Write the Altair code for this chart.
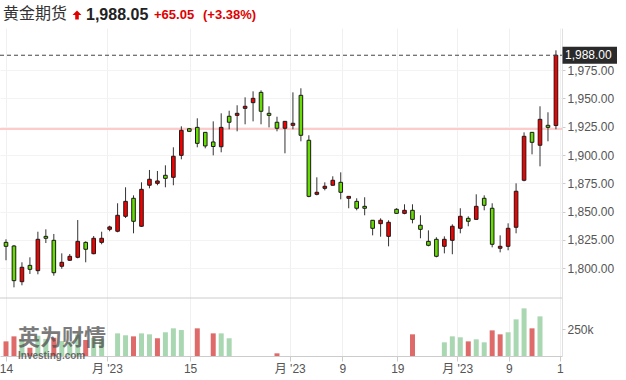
import json
import altair as alt
import numpy as np
import pandas as pd

# ---------------- data ----------------
opens = [1822.9, 1819.7, 1788.2, 1802.6, 1797.9, 1828.2, 1824.7, 1801.8, 1807.1, 1809.7,
         1822.9, 1812.9, 1822.9, 1834.4, 1832.7, 1845.9, 1861.8, 1837.1, 1873.3, 1875.0,
         1882.1, 1880.3, 1899.7, 1923.2, 1924.4, 1920.0, 1911.5, 1907.3, 1934.2, 1935.0,
         1941.2, 1946.2, 1955.3, 1936.8, 1928.9, 1923.6, 1926.2, 1952.7, 1913.0, 1865.3,
         1870.6, 1873.3, 1875.9, 1861.8, 1859.1, 1854.7, 1842.4, 1839.4, 1828.2, 1852.1,
         1848.5, 1851.2, 1838.0, 1823.8, 1825.6, 1819.4, 1824.7, 1835.3, 1844.1, 1843.2,
         1861.8, 1853.0, 1817.7, 1819.4, 1836.2, 1877.7, 1920.0, 1908.6, 1926.2, 1926.0]
highs = [1825.6, 1820.6, 1805.3, 1809.7, 1832.3, 1834.4, 1830.3, 1813.2, 1812.6, 1842.6,
         1823.8, 1828.5, 1832.3, 1837.6, 1857.4, 1871.5, 1864.4, 1875.9, 1886.8, 1885.9,
         1890.9, 1906.8, 1925.3, 1923.8, 1932.4, 1920.3, 1929.7, 1936.8, 1939.1, 1943.9,
         1950.9, 1956.2, 1957.1, 1943.0, 1933.8, 1929.9, 1955.3, 1958.9, 1917.4, 1880.3,
         1875.9, 1881.2, 1884.7, 1863.7, 1861.8, 1862.7, 1842.6, 1844.1, 1842.4, 1853.0,
         1856.5, 1856.5, 1846.8, 1833.5, 1827.4, 1828.2, 1838.8, 1853.0, 1845.9, 1865.3,
         1864.4, 1857.4, 1829.1, 1839.7, 1875.0, 1920.0, 1920.3, 1943.0, 1937.7, 1992.4]
lows = [1807.1, 1783.2, 1785.0, 1795.0, 1794.7, 1822.3, 1793.5, 1799.6, 1806.5, 1808.8,
        1805.3, 1812.4, 1821.2, 1832.7, 1831.8, 1844.4, 1830.9, 1836.5, 1870.6, 1873.3,
        1871.5, 1873.3, 1896.2, 1920.7, 1906.8, 1905.9, 1899.7, 1902.4, 1922.7, 1920.9,
        1927.1, 1929.7, 1927.1, 1924.4, 1920.9, 1901.5, 1922.7, 1912.1, 1862.7, 1864.4,
        1868.8, 1873.0, 1860.9, 1853.0, 1851.2, 1846.8, 1829.1, 1827.9, 1819.4, 1848.4,
        1847.7, 1839.7, 1826.5, 1819.4, 1809.7, 1813.2, 1812.4, 1830.9, 1837.1, 1843.0,
        1851.2, 1818.5, 1814.1, 1815.9, 1830.9, 1876.8, 1900.6, 1890.0, 1912.1, 1922.7]
closes = [1819.4, 1789.1, 1800.9, 1799.1, 1825.6, 1826.5, 1796.1, 1805.3, 1810.6, 1823.8,
          1816.8, 1826.5, 1826.5, 1836.5, 1846.8, 1859.1, 1841.5, 1869.7, 1878.6, 1877.1,
          1879.4, 1898.9, 1921.8, 1920.9, 1910.3, 1908.0, 1907.5, 1924.4, 1928.9, 1936.8,
          1943.0, 1950.0, 1938.6, 1935.0, 1923.6, 1929.7, 1928.0, 1917.4, 1863.5, 1867.1,
          1872.4, 1877.7, 1867.1, 1863.5, 1853.0, 1853.0, 1835.3, 1842.4, 1840.6, 1848.5,
          1851.2, 1843.2, 1834.4, 1820.3, 1810.6, 1825.6, 1837.1, 1845.9, 1841.5, 1854.7,
          1855.6, 1821.2, 1819.4, 1835.3, 1868.0, 1916.5, 1911.2, 1931.5, 1924.4, 1988.05]
# volume in thousands; None = no bar
volumes_k = [137, 184, 150, 78, 190, 160, 171, 140, 130, 200,
             150, 170, 160, None, 212, 194, 184, 212, 203, 166,
             222, 259, 243, None, 259, None, 212, 212, 166, None,
             None, None, None, None, 25, None, None, None, None, None,
             None, None, None, None, None, None, None, None, None, None,
             None, 203, None, None, None, 128, 184, 175, 137, 156,
             128, 240, 203, 222, 343, 446, 259, 371, None, None]

tick_pos = [0, 12.67, 23.1, 35.6, 42.2, 49.1, 56.6, 63.1, 69.5]
tick_labels = ["14", "月 '23", "15", "月 '23", "9", "19", "月 '23", "9", "1"]
price_ticks = [1800, 1825, 1850, 1875, 1900, 1925, 1950, 1975]
prev_close = 1923.0
last_price = 1988.05
last_label = "1,988.00"

# ---------------- styling ----------------
RED = "#f50000"
GREEN = "#66dd00"
VGREEN = "#a9d7b2"
VRED = "#df6a6a"
FONT = "Liberation Sans, Noto Sans CJK SC"

n = len(closes)
df = pd.DataFrame({"i": np.arange(n), "open": opens, "high": highs,
                   "low": lows, "close": closes,
                   "volume": [v * 1000 if v is not None else np.nan for v in volumes_k]})
df["fillc"] = np.where(df["close"] >= df["open"], RED, GREEN)
prev = df["close"].shift(1).fillna(df["open"])
df["vcolor"] = np.where(df["close"] >= prev, VGREEN, VRED)
vol = df.dropna(subset=["volume"])

xs = alt.Scale(domain=[-0.753, 69.76], nice=False, zero=False, padding=0)
ps = alt.Scale(domain=[1722.6, 2012.1], nice=False, zero=False, padding=0)
vs = alt.Scale(domain=[0, 3071000], nice=False, zero=True, padding=0)

expr = ""
for p, l in zip(tick_pos, tick_labels):
    expr += f"abs(datum.value - {p}) < 0.01 ? {json.dumps(l, ensure_ascii=False)} : "
expr += "''"

xaxis = alt.Axis(values=tick_pos, labelExpr=expr, grid=True, gridColor="#f0f0f0",
                 domainColor="#cccccc", tickColor="#cccccc", tickSize=5,
                 labelColor="#555555", labelFontSize=12, labelPadding=2,
                 labelFlush=False, labelOverlap=False, title=None, labelFont=FONT)
paxis = alt.Axis(orient="right", values=price_ticks, format=",.2f", grid=True,
                 gridColor="#f3f3f3", domainColor="#e0e0e0", tickColor="#cccccc",
                 tickSize=3, labelColor="#555555", labelFontSize=12, labelPadding=2,
                 title=None, labelFont=FONT)
vaxis = alt.Axis(orient="right", values=[250000], labelExpr="'250k'", grid=False,
                 domain=False, tickColor="#cccccc", tickSize=3, labelColor="#555555",
                 labelFontSize=12, labelPadding=2, title=None, labelFont=FONT)

X = alt.X("i:Q", scale=xs, axis=xaxis)

def PY(field):
    return alt.Y(field, scale=ps, axis=paxis)

base = alt.Chart(df)
refs = pd.DataFrame({"p": [prev_close]})
lastdf = pd.DataFrame({"p": [last_price], "lbl": [last_label]})

wick = base.mark_rule(color="#333333", strokeWidth=1).encode(
    x=X, y=PY("low:Q"), y2="high:Q")
body = base.mark_bar(width=3.6, stroke="#1a1a1a", strokeWidth=1).encode(
    x=X, y=PY("open:Q"), y2="close:Q",
    fill=alt.Fill("fillc:N", scale=None))
prevline = alt.Chart(refs).mark_rule(color="#ffcaca", strokeWidth=2).encode(
    y=PY("p:Q"), x=alt.value(0), x2=alt.value(562))
dashed = alt.Chart(lastdf).mark_rule(color="#444444", strokeWidth=1, strokeDash=[4, 3]).encode(
    y=PY("p:Q"), x=alt.value(0), x2=alt.value(562))
box = alt.Chart(lastdf).mark_rect(color="#2a2a2a", yOffset=-8.5, y2Offset=8.5).encode(
    y=PY("p:Q"), y2="p:Q", x=alt.value(562.5), x2=alt.value(617))
boxlabel = alt.Chart(lastdf).mark_text(align="left", baseline="middle", color="white",
                                       fontSize=12, font=FONT).encode(
    y=PY("p:Q"), x=alt.value(565), text="lbl:N")

price = alt.layer(prevline, wick, body, dashed, box, boxlabel)

volume = alt.Chart(vol).mark_bar(width=5).encode(
    x=X,
    y=alt.Y("volume:Q", scale=vs, axis=vaxis),
    fill=alt.Fill("vcolor:N", scale=None))

# panel separator between price and volume panes
sep = alt.Chart(refs).mark_rule(color="#cccccc", strokeWidth=1).encode(
    x=alt.value(0), x2=alt.value(562), y=alt.value(270))

# watermark
one = pd.DataFrame({"a": [0]})
wm1 = alt.Chart(one).mark_text(text="英为财情", align="left", baseline="middle", fontSize=22,
                               fontWeight="bold", color="#505050", opacity=0.75,
                               font="Noto Sans CJK SC").encode(x=alt.value(18), y=alt.value(310))
wm2 = alt.Chart(one).mark_text(text="Investing.com", align="left", baseline="middle", fontSize=10,
                               fontWeight="bold", color="#444444", opacity=0.75,
                               font=FONT).encode(x=alt.value(18), y=alt.value(328))

# title
t1 = alt.Chart(one).mark_text(text="黄金期货", align="left", baseline="middle", fontSize=16,
                              color="#333333", font="Noto Sans CJK SC").encode(
    x=alt.value(3), y=alt.value(-14))
arrow = alt.Chart(one).mark_point(
    shape="M0,-1 L1,0 L0.4,0 L0.4,1 L-0.4,1 L-0.4,0 L-1,0 Z",
    filled=True, color="#e00000", size=80, opacity=1).encode(x=alt.value(77), y=alt.value(-13))
t2 = alt.Chart(one).mark_text(text="1,988.05", align="left", baseline="middle", fontSize=16,
                              fontWeight="bold", color="#222222", font=FONT).encode(
    x=alt.value(86), y=alt.value(-13))
t3 = alt.Chart(one).mark_text(text="+65.05", align="left", baseline="middle", fontSize=13,
                              fontWeight="bold", color="#e00000", font=FONT).encode(
    x=alt.value(154), y=alt.value(-13))
t4 = alt.Chart(one).mark_text(text="(+3.38%)", align="left", baseline="middle", fontSize=13,
                              fontWeight="bold", color="#e00000", font=FONT).encode(
    x=alt.value(203), y=alt.value(-13))

chart = alt.layer(price, volume, sep, wm1, wm2, t1, arrow, t2, t3, t4).resolve_scale(
    y="independent"
).properties(
    width=562, height=328,
    padding={"left": 0, "top": 28, "right": 64, "bottom": 24},
    autosize=alt.AutoSizeParams(type="none"),
    background="white",
).configure_view(stroke=None)

chart.save("out.html", embed_options={"renderer": "svg", "actions": False})
